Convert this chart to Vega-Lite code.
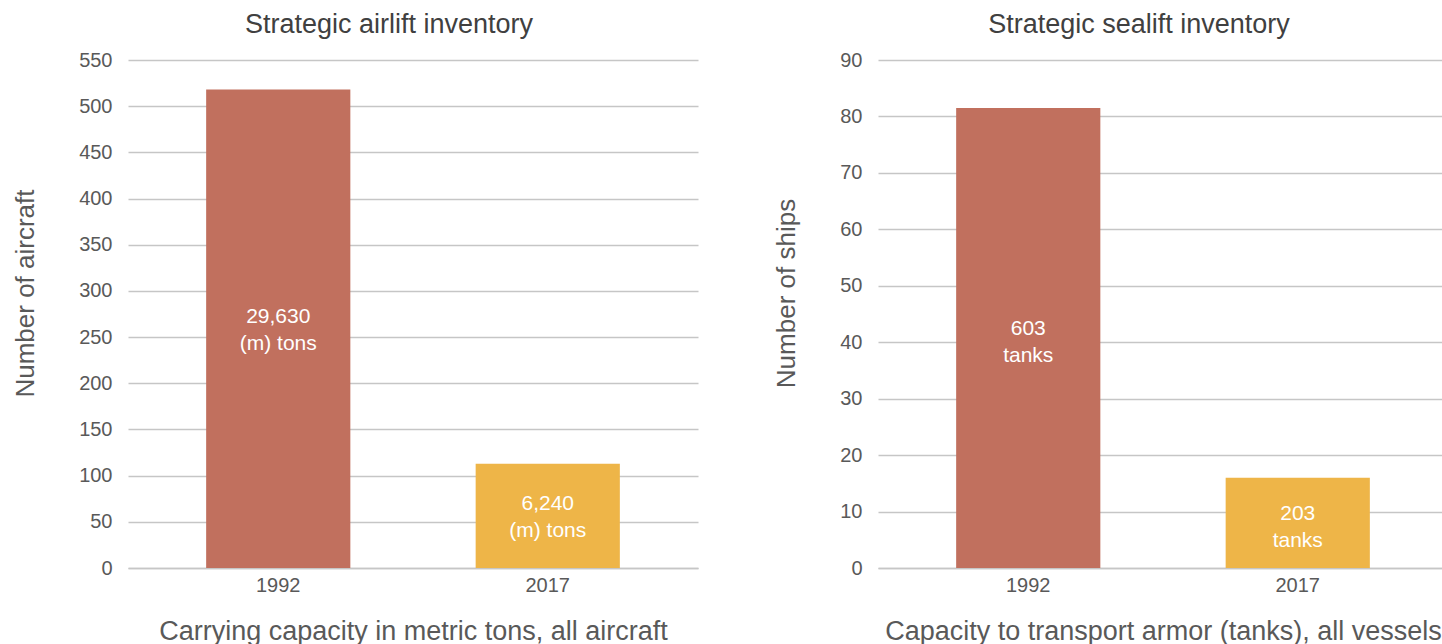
{
  "$schema": "https://vega.github.io/schema/vega-lite/v6.json",
  "background": "white",
  "padding": {"left": 12, "top": 11, "right": 0, "bottom": 0},
  "spacing": 75,
  "config": {
    "font": "Liberation Sans",
    "view": {"stroke": null},
    "title": {"fontSize": 27, "fontWeight": "normal", "color": "#404040", "dx": -24, "offset": 11},
    "axis": {
      "labelFontSize": 20, "labelColor": "#595959", "titleFontSize": 26, "titleFontWeight": "normal", "titleColor": "#595959",
      "ticks": false, "gridColor": "#C6C6C6", "gridWidth": 1.5, "domainColor": "#C6C6C6", "domainWidth": 1.5
    },
    "axisY": {"domain": false, "labelPadding": 16, "titlePadding": 40, "titleY": 233},
    "axisX": {"labelPadding": 7, "titlePadding": 23, "labelAngle": 0, "grid": false, "titleFontSize": 27}
  },
  "hconcat": [
    {
      "title": "Strategic airlift inventory",
      "width": 570,
      "height": 508,
      "data": {"values": [
        {"year": "1992", "count": 518, "label": "29,630\n(m) tons"},
        {"year": "2017", "count": 113, "label": "6,240\n(m) tons"}
      ]},
      "encoding": {
        "x": {"field": "year", "type": "nominal", "scale": {"paddingInner": 0.465, "paddingOuter": 0.29}, "axis": {"title": "Carrying capacity in metric tons, all aircraft"}}
      },
      "layer": [
        {
          "mark": {"type": "bar"},
          "encoding": {
            "y": {"field": "count", "type": "quantitative", "scale": {"domain": [0, 550]}, "axis": {"values": [0,50,100,150,200,250,300,350,400,450,500,550], "title": "Number of aircraft"}},
            "color": {"field": "year", "type": "nominal", "scale": {"domain": ["1992", "2017"], "range": ["#C1705E", "#EEB548"]}, "legend": null}
          }
        },
        {
          "mark": {"type": "text", "color": "white", "fontSize": 21, "lineHeight": 27, "baseline": "middle", "lineBreak": "\n", "dy": -12},
          "encoding": {
            "y": {"field": "count", "type": "quantitative", "scale": {"domain": [0, 1100]}, "axis": null},
            "text": {"field": "label", "type": "nominal"}
          }
        }
      ],
      "resolve": {"scale": {"y": "independent"}}
    },
    {
      "title": "Strategic sealift inventory",
      "width": 570,
      "height": 508,
      "data": {"values": [
        {"year": "1992", "count": 81.5, "label": "603\ntanks"},
        {"year": "2017", "count": 16, "label": "203\ntanks"}
      ]},
      "encoding": {
        "x": {"field": "year", "type": "nominal", "scale": {"paddingInner": 0.465, "paddingOuter": 0.29}, "axis": {"title": "Capacity to transport armor (tanks), all vessels"}}
      },
      "layer": [
        {
          "mark": {"type": "bar"},
          "encoding": {
            "y": {"field": "count", "type": "quantitative", "scale": {"domain": [0, 90]}, "axis": {"values": [0,10,20,30,40,50,60,70,80,90], "title": "Number of ships"}},
            "color": {"field": "year", "type": "nominal", "scale": {"domain": ["1992", "2017"], "range": ["#C1705E", "#EEB548"]}, "legend": null}
          }
        },
        {
          "mark": {"type": "text", "color": "white", "fontSize": 21, "lineHeight": 27, "baseline": "middle", "lineBreak": "\n", "dy": -9},
          "encoding": {
            "y": {"field": "count", "type": "quantitative", "scale": {"domain": [0, 180]}, "axis": null},
            "text": {"field": "label", "type": "nominal"}
          }
        }
      ],
      "resolve": {"scale": {"y": "independent"}}
    }
  ]
}
